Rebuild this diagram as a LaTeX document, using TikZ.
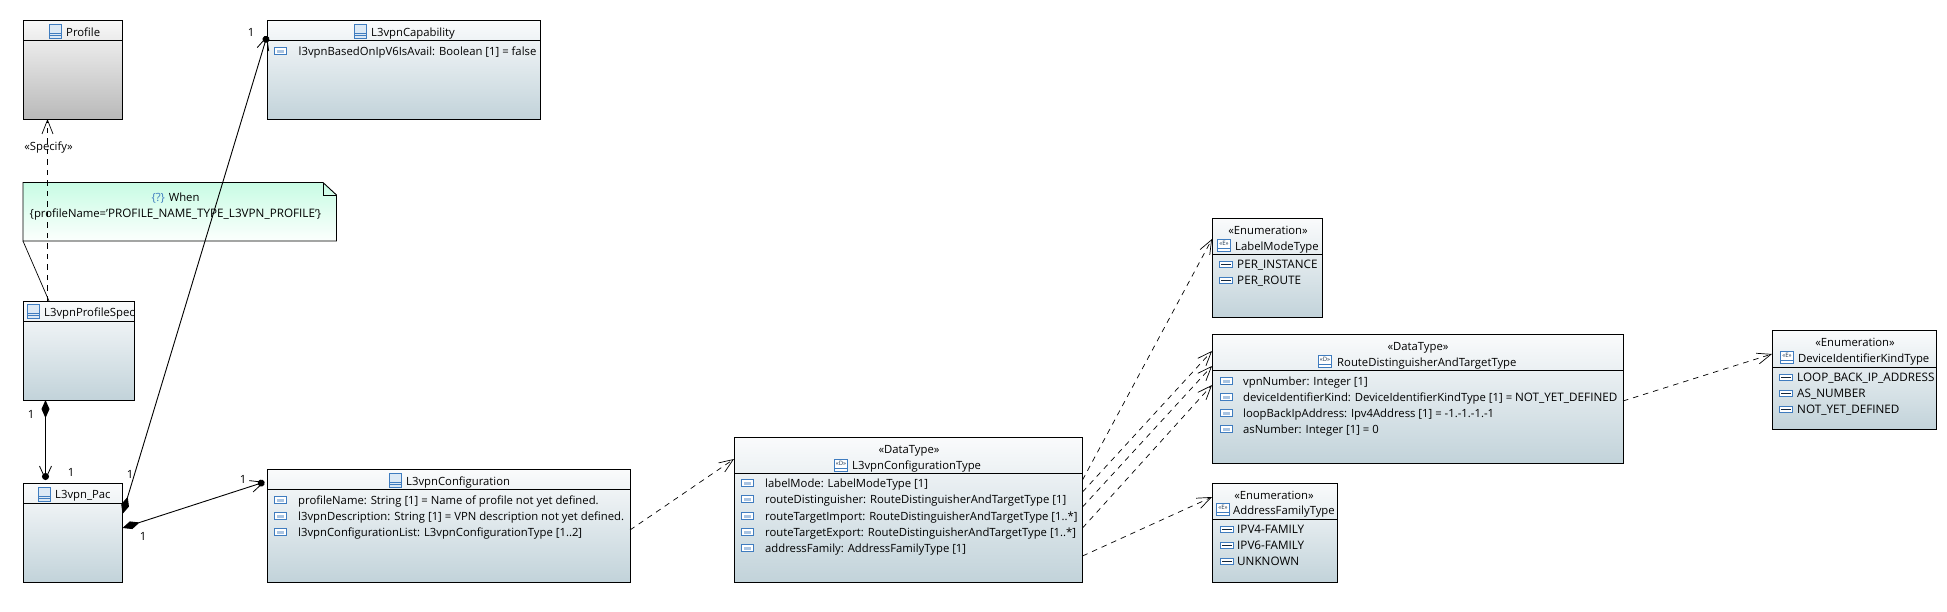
\documentclass[tikz,border=0pt]{standalone}
\usepackage{fontspec}
\setmainfont{Open Sans}
\usetikzlibrary{arrows.meta}
\definecolor{iconblue}{HTML}{3F7CBF}
\definecolor{iconpale}{HTML}{DCE9F5}
\definecolor{boxtop}{HTML}{FAFBFC}
\definecolor{boxbottom}{HTML}{C2D3DA}
\definecolor{greytop}{HTML}{F8F8F8}
\definecolor{greybottom}{HTML}{B9B9B9}
\definecolor{notetop}{HTML}{C8FCE4}
\definecolor{notebottom}{HTML}{FCFFFD}
\newcommand{\umlfont}{\fontsize{11.3}{13}\selectfont}
\newcommand{\capsfont}{\fontsize{11.7}{13}\selectfont}
\tikzset{
  umlbox/.style={draw=black, line width=.9pt, rectangle, inner sep=0pt, outer sep=0pt, anchor=north west, top color=boxtop, bottom color=boxbottom},
  greybox/.style={umlbox, top color=greytop, bottom color=greybottom},
  rowtext/.style={anchor=base west, inner sep=0pt, yshift=-4pt, font=\umlfont},
  titletext/.style={anchor=base, inner sep=0pt, yshift=-4pt, font=\umlfont},
  mult/.style={anchor=base, inner sep=0pt, yshift=-4pt, font=\umlfont},
  depline/.style={line width=.7pt, dash pattern=on 5.5pt off 5pt, -{Straight Barb[length=14pt,width=11pt,line width=.7pt]}},
  ownline/.style={line width=.9pt, {Diamond[length=18pt,width=8pt]}-{Straight Barb[length=13pt,width=12pt,line width=.8pt,sep=-7pt]Circle[length=7pt]}},
  classicon/.pic={
    \draw[iconblue, fill=iconpale, line width=1pt] (-6,-7) rectangle (6,7);
    \draw[iconblue, line width=1pt] (-6,2) -- (6,2) (-6,4.5) -- (6,4.5);
  },
  propicon/.pic={
    \draw[iconblue, fill=white, line width=1pt] (-6,-3.5) rectangle (6,3.5);
    \fill[iconblue!45] (-3.5,-1.5) rectangle (3.5,1.5);
  },
  litericon/.pic={
    \draw[iconblue, fill=white, line width=1pt] (-6.5,-3) rectangle (6.5,3);
    \draw[black!70!iconblue, line width=1pt] (-5,0) -- (5,0);
  },
  datumicon/.pic={
    \draw[iconblue, fill=white, line width=1pt] (-6.5,-6) rectangle (6.5,6);
    \draw[iconblue, line width=1pt] (-6.5,3.5) -- (6.5,3.5);
    \node[inner sep=0pt, font=\fontsize{6}{6}\selectfont, text=black!60!iconblue] at (0,-1.2) {\tikzpictext};
  },
}
\begin{document}
\begin{tikzpicture}[x=1pt, y=-1pt]
  \useasboundingbox (0,0) rectangle (1947,611);
  % boxes
  \node[greybox, minimum width=99.5pt, minimum height=99pt] (profile) at (23,20) {};
  \node[umlbox, minimum width=273pt, minimum height=99pt] (capability) at (267,20) {};
  \node[umlbox, minimum width=111pt, minimum height=99pt] (spec) at (23,301) {};
  \node[umlbox, minimum width=99.5pt, minimum height=99pt] (pac) at (23,483) {};
  \node[umlbox, minimum width=363pt, minimum height=113pt] (config) at (267,469) {};
  \node[umlbox, minimum width=348.5pt, minimum height=145pt] (configtype) at (734,437) {};
  \node[umlbox, minimum width=110.5pt, minimum height=99pt] (labelmode) at (1212,218.5) {};
  \node[umlbox, minimum width=411pt, minimum height=129pt] (routetype) at (1212,334) {};
  \node[umlbox, minimum width=125pt, minimum height=99pt] (family) at (1212,483) {};
  \node[umlbox, minimum width=164.5pt, minimum height=99pt] (devicekind) at (1772,330) {};

  % header lines
  \draw[line width=.9pt] (23,40) -- (122.5,40);
  \draw[line width=.9pt] (267,40) -- (540,40);
  \draw[line width=.9pt] (23,321) -- (134,321);
  \draw[line width=.9pt] (23,503) -- (122.5,503);
  \draw[line width=.9pt] (267,489) -- (630,489);
  \draw[line width=.9pt] (734,473) -- (1082.5,473);
  \draw[line width=.9pt] (1212,254) -- (1322.5,254);
  \draw[line width=.9pt] (1212,370) -- (1623,370);
  \draw[line width=.9pt] (1212,519) -- (1337,519);
  \draw[line width=.9pt] (1772,367) -- (1936.5,367);

  % note
  \node[inner sep=0pt, outer sep=0pt, anchor=north west, minimum width=313.5pt, minimum height=58.5pt] (when) at (23,182.5) {};
  \draw[line width=.9pt, top color=notetop, bottom color=notebottom] (23,182.5) -- (323,182.5) -- (336.5,195) -- (336.5,241) -- (23,241) -- cycle;
  \draw[line width=.9pt] (323,182.5) -- (323,195) -- (336.5,195);
  \node[titletext] (whentitle) at (175.5,197) {\textcolor{iconblue}{\{?\}} When};
  \node[titletext] (whenbody) at (175.5,213) {\{profileName='{\capsfont PROFILE\_NAME\_TYPE\_L3VPN\_PROFILE}'\}};

  % titles
  \pic at (55.5,31) {classicon};
  \node[rowtext] (profilename) at (66,32) {Profile};
  \pic at (360,31) {classicon};
  \node[rowtext] (capabilityname) at (371,32) {L3vpnCapability};
  \pic at (33,311) {classicon};
  \begin{scope}
    \clip (23,301) rectangle (133.5,321);
    \node[rowtext] (specname) at (44,312) {L3vpnProfileSpec};
  \end{scope}
  \pic at (44,494) {classicon};
  \node[rowtext] (pacname) at (55,494.5) {L3vpn\_Pac};
  \pic at (395,480) {classicon};
  \node[rowtext] (configname) at (406,481) {L3vpnConfiguration};

  \node[titletext] (configstereo) at (909,449) {«DataType»};
  \pic[pic text=«D»] at (841,465) {datumicon};
  \node[rowtext] (configtypename) at (852,465.5) {L3vpnConfigurationType};
  \node[titletext] (labelstereo) at (1268,230) {«Enumeration»};
  \pic[pic text=«E»] at (1224,245) {datumicon};
  \node[rowtext] (labelname) at (1235,246) {LabelModeType};
  \node[titletext] (routestereo) at (1418,346) {«DataType»};
  \pic[pic text=«D»] at (1325,361) {datumicon};
  \node[rowtext] (routename) at (1337,362) {RouteDistinguisherAndTargetType};
  \node[titletext] (familystereo) at (1274,495) {«Enumeration»};
  \pic[pic text=«E»] at (1223,509) {datumicon};
  \node[rowtext] (familyname) at (1233,510) {AddressFamilyType};
  \node[titletext] (kindstereo) at (1855,342) {«Enumeration»};
  \pic[pic text=«E»] at (1787,357) {datumicon};
  \node[rowtext] (kindname) at (1798,358) {DeviceIdentifierKindType};

  % rows
  \pic at (280.5,51) {propicon};
  \node[rowtext] (caprow) at (298.5,51) {l3vpnBasedOnIpV6IsAvail: Boolean [1] = false};
  \foreach \ypos/\txt [count=\i] in {500/{profileName: String [1] = Name of profile not yet defined.},
      516/{l3vpnDescription: String [1] = VPN description not yet defined.},
      532/{l3vpnConfigurationList: L3vpnConfigurationType [1..2]}} {
    \pic at (280,\ypos) {propicon};
    \node[rowtext] (cfgrow\i) at (298,\ypos) {\txt};
  }
  \foreach \ypos/\txt [count=\i] in {483/{labelMode: LabelModeType [1]},
      499/{routeDistinguisher: RouteDistinguisherAndTargetType [1]},
      516/{routeTargetImport: RouteDistinguisherAndTargetType [1..*]},
      532/{routeTargetExport: RouteDistinguisherAndTargetType [1..*]},
      548/{addressFamily: AddressFamilyType [1]}} {
    \pic at (747,\ypos) {propicon};
    \node[rowtext] (typerow\i) at (765,\ypos) {\txt};
  }
  \foreach \ypos/\txt [count=\i] in {381/{vpnNumber: Integer [1]},
      397/{deviceIdentifierKind: DeviceIdentifierKindType [1] = {\capsfont NOT\_YET\_DEFINED}},
      413/{loopBackIpAddress: Ipv4Address [1] = -1.-1.-1.-1},
      429/{asNumber: Integer [1] = 0}} {
    \pic at (1226,\ypos) {propicon};
    \node[rowtext] (routerow\i) at (1243,\ypos) {\txt};
  }
  \foreach \ypos/\txt [count=\i] in {264/PER\_INSTANCE, 280.5/PER\_ROUTE} {
    \pic at (1226,\ypos) {litericon};
    \node[rowtext] (labelrow\i) at (1237,\ypos) {\capsfont\txt};
  }
  \foreach \ypos/\txt [count=\i] in {529/IPV4-FAMILY, 545/IPV6-FAMILY, 561/UNKNOWN} {
    \pic at (1227,\ypos) {litericon};
    \node[rowtext] (familyrow\i) at (1237,\ypos) {\capsfont\txt};
  }
  \foreach \ypos/\txt [count=\i] in {377/LOOP\_BACK\_IP\_ADDRESS, 393/AS\_NUMBER, 409/NOT\_YET\_DEFINED} {
    \pic at (1786,\ypos) {litericon};
    \node[rowtext] (kindrow\i) at (1797,\ypos) {\capsfont\txt};
  }

  % connectors
  \draw[line width=.7pt] (when.south west) -- ([xshift=26pt]spec.north west);
  \draw[depline] ([xshift=24.5pt]spec.north west) -- ([xshift=24.5pt]profile.south west);
  \node[titletext] (specify) at (48.5,146.5) {«Specify»};
  \draw[ownline] ([xshift=22.5pt]spec.south west) -- ([xshift=22.5pt,yshift=3pt]pac.north west);
  \draw[ownline] ([yshift=-31pt]pac.north east) -- ([yshift=-16pt]capability.north west);
  \draw[ownline] ([yshift=-45pt]pac.north east) -- ([xshift=-2.5pt,yshift=-13pt]config.north west);
  \draw[depline] ([yshift=-61pt]config.north east) -- ([yshift=-22pt]configtype.north west);
  \draw[depline] ([yshift=-43pt]configtype.north east) -- ([yshift=-20.5pt]labelmode.north west);
  \draw[depline] ([yshift=-55pt]configtype.north east) -- ([yshift=-17pt]routetype.north west);
  \draw[depline] ([yshift=-70pt]configtype.north east) -- ([yshift=-32pt]routetype.north west);
  \draw[depline] ([yshift=-91pt]configtype.north east) -- ([yshift=-51pt]routetype.north west);
  \draw[depline] ([yshift=-119pt]configtype.north east) -- ([yshift=-14pt]family.north west);
  \draw[depline] ([yshift=-67pt]routetype.north east) -- ([yshift=-24pt]devicekind.north west);

  % multiplicities
  \node[mult] (multa) at (251,32) {1};
  \node[mult] (multb) at (130,474) {1};
  \node[mult] (multc) at (31,414) {1};
  \node[mult] (multd) at (71,472) {1};
  \node[mult] (multe) at (143,536) {1};
  \node[mult] (multf) at (243,479) {1};
\end{tikzpicture}
\end{document}
